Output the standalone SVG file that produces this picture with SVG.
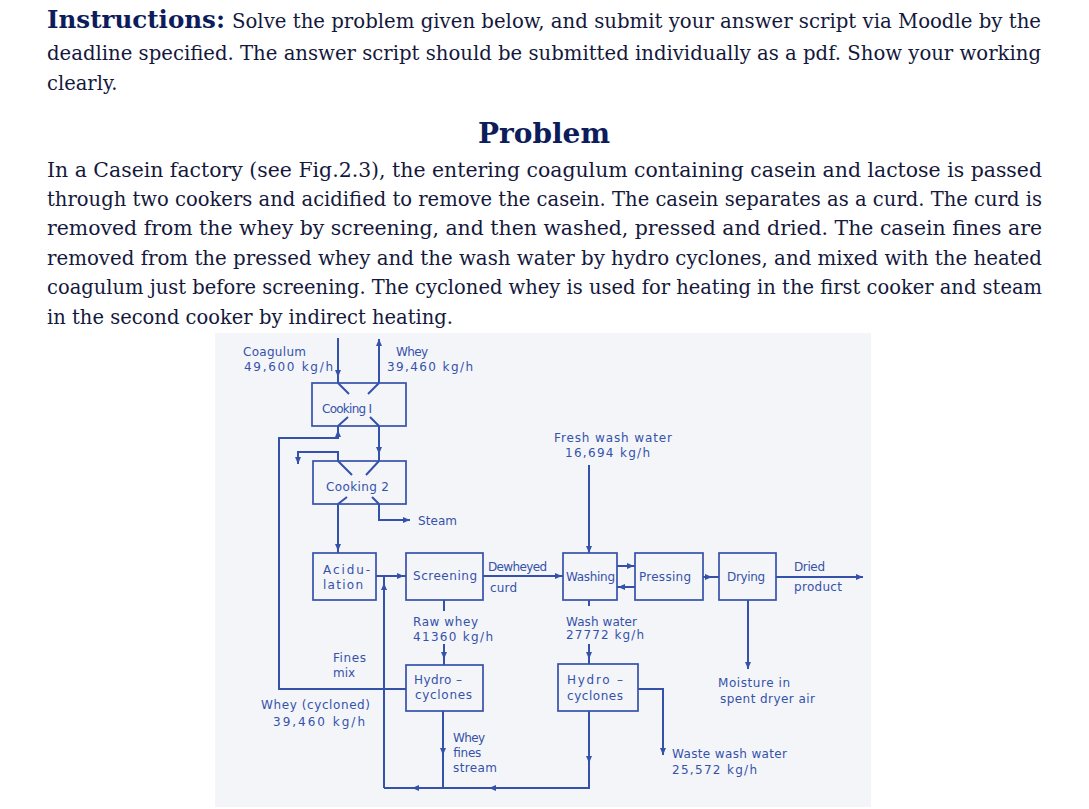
<svg xmlns="http://www.w3.org/2000/svg" xmlns:xlink="http://www.w3.org/1999/xlink" width="1089" height="809" viewBox="0 0 1089 809">
<style>
.hb{font-family:"DejaVu Serif","Liberation Serif",serif;font-weight:bold;fill:#0d1c5a}
.hp{font-family:"DejaVu Serif","Liberation Serif",serif;font-size:19.5px;fill:#14183c}
.bx{fill:none;stroke:#3552aa;stroke-width:1.7}
.ln{fill:none;stroke:#3552aa;stroke-width:2}
.t{font-family:"DejaVu Sans","Liberation Sans",sans-serif;font-size:12px;fill:#3552aa}
.ar{fill:#3552aa}
</style>
<defs>
<path id="ah" d="M-4,-3 L3,0 L-4,3 z"/>
</defs>
<rect width="1089" height="809" fill="#ffffff"/>
<g id="header">
<text class="hb" x="47" y="28" font-size="24" textLength="178" lengthAdjust="spacingAndGlyphs">Instructions:</text>
<text class="hp" x="232" y="28" textLength="809" lengthAdjust="spacingAndGlyphs">Solve the problem given below, and submit your answer script via Moodle by the</text>
<text class="hp" x="47" y="60" textLength="994" lengthAdjust="spacingAndGlyphs">deadline specified. The answer script should be submitted individually as a pdf. Show your working</text>
<text class="hp" x="47" y="90">clearly.</text>
<text class="hb" x="478" y="143" font-size="28" textLength="132" lengthAdjust="spacingAndGlyphs">Problem</text>
<text class="hp" x="47" y="177" textLength="995" lengthAdjust="spacingAndGlyphs">In a Casein factory (see Fig.2.3), the entering coagulum containing casein and lactose is passed</text>
<text class="hp" x="47" y="206" textLength="995" lengthAdjust="spacingAndGlyphs">through two cookers and acidified to remove the casein. The casein separates as a curd. The curd is</text>
<text class="hp" x="47" y="235" textLength="995" lengthAdjust="spacingAndGlyphs">removed from the whey by screening, and then washed, pressed and dried. The casein fines are</text>
<text class="hp" x="47" y="265" textLength="995" lengthAdjust="spacingAndGlyphs">removed from the pressed whey and the wash water by hydro cyclones, and mixed with the heated</text>
<text class="hp" x="47" y="294" textLength="995" lengthAdjust="spacingAndGlyphs">coagulum just before screening. The cycloned whey is used for heating in the first cooker and steam</text>
<text class="hp" x="47" y="324" textLength="406" lengthAdjust="spacingAndGlyphs">in the second cooker by indirect heating.</text>
</g>
<rect x="215" y="333" width="656" height="474" fill="#f4f5f9"/>
<g id="connectors">
<path class="ln" d="M338 338 V383 M338 383 L349 394"/>
<path class="ln" d="M379 339 V383 M379 383 L368 394"/>
<path class="ln" d="M338 426 L348 417 M379 426 L370 417"/>
<path class="ln" d="M406 689 H279 V438 H338 V426"/>
<path class="ln" d="M379 426 V461"/>
<path class="ln" d="M338 461 V452 H298 V464"/>
<path class="ln" d="M338 461 L352 475 M379 461 L366 475 M338 504 L347 497 M379 504 L372 497"/>
<path class="ln" d="M338 504 V553"/>
<path class="ln" d="M379 504 V520 H410"/>
<path class="ln" d="M376 576 H406"/>
<path class="ln" d="M384 788 V576"/>
<path class="ln" d="M444 600 V611 M444 644 V665"/>
<path class="ln" d="M483 576 H563"/>
<path class="ln" d="M589 465 V553"/>
<path class="ln" d="M617 566 H635 M635 587 H617"/>
<path class="ln" d="M703 577 H719"/>
<path class="ln" d="M776 577 H863"/>
<path class="ln" d="M589 600 V606 M589 644 V664"/>
<path class="ln" d="M638 689 H663 V755"/>
<path class="ln" d="M748 600 V669"/>
<path class="ln" d="M589 711 V788 H384"/>
<path class="ln" d="M443 711 V788"/>
<g class="ar">
<use xlink:href="#ah" transform="translate(338,374) rotate(90)"/>
<use xlink:href="#ah" transform="translate(379,342) rotate(-90)"/>
<use xlink:href="#ah" transform="translate(338,433) rotate(-90)"/>
<use xlink:href="#ah" transform="translate(379,451) rotate(90)"/>
<use xlink:href="#ah" transform="translate(298,461) rotate(90)"/>
<use xlink:href="#ah" transform="translate(338,548) rotate(90)"/>
<use xlink:href="#ah" transform="translate(407,520)"/>
<use xlink:href="#ah" transform="translate(401,576)"/>
<use xlink:href="#ah" transform="translate(384,586) rotate(-90)"/>
<use xlink:href="#ah" transform="translate(444,656) rotate(90)"/>
<use xlink:href="#ah" transform="translate(559,576)"/>
<use xlink:href="#ah" transform="translate(589,550) rotate(90)"/>
<use xlink:href="#ah" transform="translate(631,566)"/>
<use xlink:href="#ah" transform="translate(621,587) rotate(180)"/>
<use xlink:href="#ah" transform="translate(709,577)"/>
<use xlink:href="#ah" transform="translate(860,577)"/>
<use xlink:href="#ah" transform="translate(589,656) rotate(90)"/>
<use xlink:href="#ah" transform="translate(663,752) rotate(90)"/>
<use xlink:href="#ah" transform="translate(748,666) rotate(90)"/>
<use xlink:href="#ah" transform="translate(589,760) rotate(90)"/>
<use xlink:href="#ah" transform="translate(492,788) rotate(180)"/>
<use xlink:href="#ah" transform="translate(443,752) rotate(90)"/>
<use xlink:href="#ah" transform="translate(415,788) rotate(180)"/>
</g>
</g>
<g id="cooking1"><rect class="bx" x="312" y="383" width="94" height="43"/><text class="t" x="322" y="413" textLength="50">Cooking I</text></g>
<g id="cooking2"><rect class="bx" x="313" y="461" width="93" height="43"/><text class="t" x="326" y="491" textLength="63">Cooking 2</text></g>
<g id="acidulation"><rect class="bx" x="313" y="553" width="63" height="47"/><text class="t" x="323" y="574" textLength="47">Acidu-</text><text class="t" x="323" y="589" textLength="40">lation</text></g>
<g id="screening"><rect class="bx" x="406" y="553" width="77" height="47"/><text class="t" x="413" y="580" textLength="64">Screening</text></g>
<g id="washing"><rect class="bx" x="563" y="553" width="54" height="47"/><text class="t" x="566" y="581" textLength="49">Washing</text></g>
<g id="pressing"><rect class="bx" x="635" y="553" width="68" height="47"/><text class="t" x="639" y="581" textLength="52">Pressing</text></g>
<g id="drying"><rect class="bx" x="719" y="553" width="57" height="47"/><text class="t" x="727" y="581" textLength="38">Drying</text></g>
<g id="hydro1"><rect class="bx" x="406" y="665" width="77" height="46"/><text class="t" x="414" y="684" textLength="48">Hydro –</text><text class="t" x="415" y="699" textLength="57">cyclones</text></g>
<g id="hydro2"><rect class="bx" x="558" y="664" width="80" height="47"/><text class="t" x="567" y="684" textLength="56">Hydro –</text><text class="t" x="567" y="700" textLength="56">cyclones</text></g>
<g id="labels">
<text class="t" x="243" y="356" textLength="63">Coagulum</text>
<text class="t" x="244" y="371" textLength="89">49,600 kg/h</text>
<text class="t" x="396" y="356" textLength="32">Whey</text>
<text class="t" x="387" y="371" textLength="86">39,460 kg/h</text>
<text class="t" x="554" y="442" textLength="118">Fresh wash water</text>
<text class="t" x="565" y="457" textLength="85">16,694 kg/h</text>
<text class="t" x="418" y="525" textLength="39">Steam</text>
<text class="t" x="488" y="571" textLength="59">Dewheyed</text>
<text class="t" x="490" y="592" textLength="27">curd</text>
<text class="t" x="794" y="571" textLength="31">Dried</text>
<text class="t" x="794" y="591" textLength="48">product</text>
<text class="t" x="413" y="626" textLength="65">Raw whey</text>
<text class="t" x="413" y="641" textLength="80">41360 kg/h</text>
<text class="t" x="566" y="626" textLength="71">Wash water</text>
<text class="t" x="566" y="639" textLength="78">27772 kg/h</text>
<text class="t" x="333" y="662" textLength="33">Fines</text>
<text class="t" x="333" y="677" textLength="22">mix</text>
<text class="t" x="261" y="709" textLength="109">Whey (cycloned)</text>
<text class="t" x="273" y="726" textLength="92">39,460 kg/h</text>
<text class="t" x="453" y="742" textLength="32">Whey</text>
<text class="t" x="453" y="757" textLength="28">fines</text>
<text class="t" x="453" y="772" textLength="44">stream</text>
<text class="t" x="718" y="687" textLength="72">Moisture in</text>
<text class="t" x="720" y="703" textLength="95">spent dryer air</text>
<text class="t" x="672" y="758" textLength="115">Waste wash water</text>
<text class="t" x="672" y="774" textLength="85">25,572 kg/h</text>
</g>
</svg>
